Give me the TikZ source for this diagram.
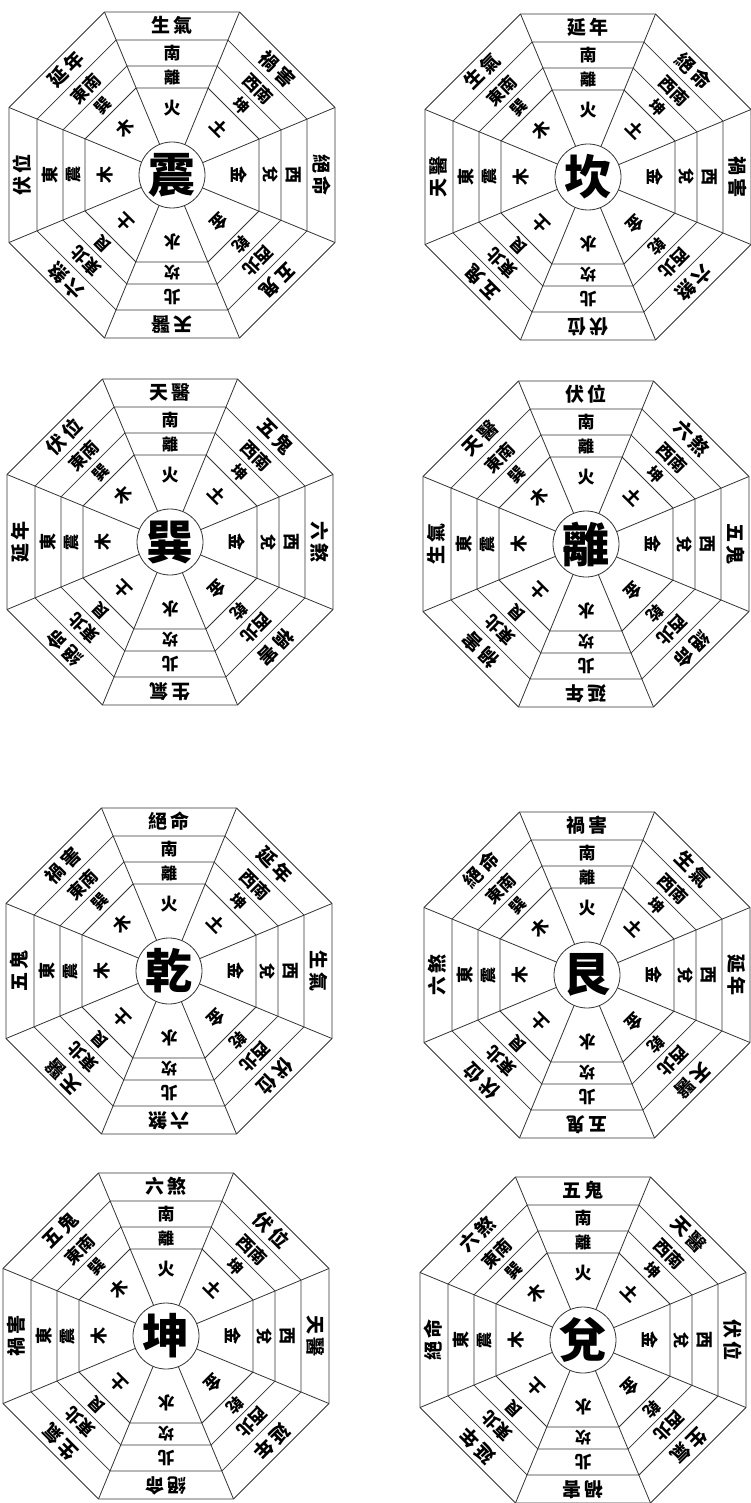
\documentclass[tikz,border=0pt]{standalone}
\usepackage{fontspec}
\newfontfamily\cjk{Noto Sans CJK TC}

\tikzset{
  ringline/.style={draw=black!80, line width=0.8pt},
  hubchar/.style={circle, draw=black!80, line width=0.8pt, minimum size=66pt, inner sep=-2pt, font=\cjk\bfseries\fontsize{47}{47}\selectfont},
  elemtext/.style={inner sep=0pt, font=\cjk\bfseries\fontsize{17}{17}\selectfont},
  gua/.style={inner sep=0pt, font=\cjk\bfseries\fontsize{16}{16}\selectfont},
  dirtext/.style={inner sep=0pt, font=\cjk\bfseries\fontsize{17}{17}\selectfont},
  startext/.style={inner sep=0pt, font=\cjk\bfseries\fontsize{19}{19}\selectfont}
}

% #1 id, #2 x, #3 y, #4 centre trigram, #5 stars (S,SW,W,NW,N,NE,E,SE)
\newcommand\baguachart[5]{%
  \begin{scope}[shift={(#2,#3)}]
    \node[hubchar] (#1-c) at (0,0) {#4};
    % octagon rings
    \foreach \a in {87,109,135,163}{
      \pgfmathsetmacro\R{\a*1.0824}
      \draw[ringline] (22.5:\R) \foreach \k in {1,...,7}{ -- (22.5+45*\k:\R)} -- cycle;
    }
    % spokes
    \foreach \ang in {22.5,67.5,...,337.5}
      \draw[ringline] (#1-c.\ang) -- (\ang:176.4);
    \foreach \lab [count=\i from 0] in {火,土,金,金,水,土,木,木}
      \node[elemtext, rotate=-45*\i] (#1-el-\i) at ({90-45*\i}:67) {\lab};
    \foreach \lab [count=\i from 0] in {離,坤,兌,乾,坎,艮,震,巽}
      \node[gua, rotate=-45*\i] (#1-tg-\i) at ({90-45*\i}:98) {\lab};
    \foreach \lab [count=\i from 0] in {南,西南,西,西北,北,東北,東,東南}
      \node[dirtext, rotate=-45*\i] (#1-dir-\i) at ({90-45*\i}:122) {\lab};
    \foreach \lab [count=\i from 0] in {#5}
      \node[startext, rotate=-45*\i] (#1-st-\i) at ({90-45*\i}:149.5) {\lab};
  \end{scope}}

\begin{document}
\begin{tikzpicture}[x=1pt, y=1pt]
  \useasboundingbox (0,0) rectangle (750,-1503);
  \fill[white] (0,0) rectangle (750,-1503);

  \baguachart{zhen}{172}{-175}{震}{生\,氣,禍\,害,絕\,命,五\,鬼,天\,醫,六\,煞,伏\,位,延\,年}
  \baguachart{kan}{588}{-177}{坎}{延\,年,絕\,命,禍\,害,六\,煞,伏\,位,五\,鬼,天\,醫,生\,氣}
  \baguachart{xun}{170}{-542}{巽}{天\,醫,五\,鬼,六\,煞,禍\,害,生\,氣,絕\,命,延\,年,伏\,位}
  \baguachart{li}{586}{-544}{離}{伏\,位,六\,煞,五\,鬼,絕\,命,延\,年,禍\,害,生\,氣,天\,醫}
  \baguachart{qian}{169}{-971}{乾}{絕\,命,延\,年,生\,氣,伏\,位,六\,煞,天\,醫,五\,鬼,禍\,害}
  \baguachart{gen}{587}{-975}{艮}{禍\,害,生\,氣,延\,年,天\,醫,五\,鬼,伏\,位,六\,煞,絕\,命}
  \baguachart{kun}{166}{-1336}{坤}{六\,煞,伏\,位,天\,醫,延\,年,絕\,命,生\,氣,禍\,害,五\,鬼}
  \baguachart{dui}{583}{-1340}{兌}{五\,鬼,天\,醫,伏\,位,生\,氣,禍\,害,延\,年,絕\,命,六\,煞}
\end{tikzpicture}
\end{document}
